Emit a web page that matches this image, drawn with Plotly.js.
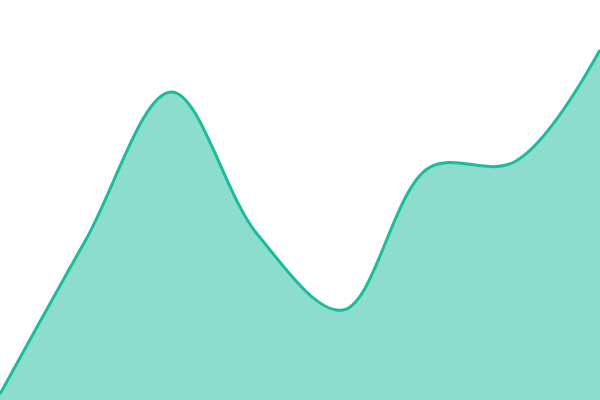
<!DOCTYPE html>
<html>
<head>
<meta charset="utf-8">
<script src="https://cdn.plot.ly/plotly-3.0.1.min.js"></script>
<style>
  html, body { margin: 0; padding: 0; background: #fff; }
  #chart { width: 600px; height: 400px; }
</style>
</head>
<body>
<div id="chart"></div>
<script>
const steps = [0, 1, 2, 3, 4, 5, 6, 7];
const values = [1.5, 40, 77, 41.5, 22.5, 58, 59.5, 87.5];

const area = {
  x: steps,
  y: values,
  mode: 'lines',
  fill: 'tozeroy',
  fillcolor: 'rgba(26, 188, 156, 0.5)',
  line: { color: '#1abc9c', width: 3, shape: 'spline', smoothing: 1 },
  hoverinfo: 'none',
};

Plotly.newPlot('chart', [area], {
  width: 600,
  height: 400,
  margin: { l: 0, r: 0, t: 0, b: 0 },
  showlegend: false,
  paper_bgcolor: '#fff',
  plot_bgcolor: '#fff',
  xaxis: { range: [0, 7], visible: false, fixedrange: true },
  yaxis: { range: [0, 100], visible: false, fixedrange: true },
}, { displayModeBar: false, staticPlot: true });
</script>
</body>
</html>
